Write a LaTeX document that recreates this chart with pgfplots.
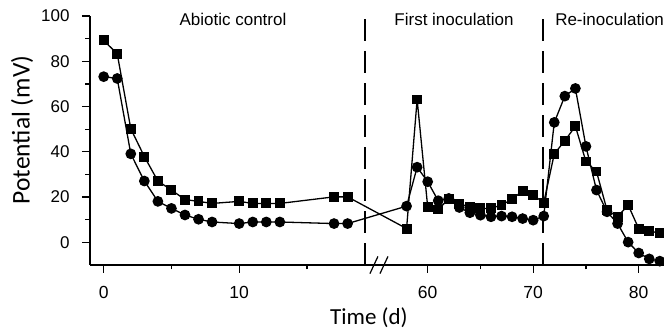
\documentclass[border=0pt]{standalone}
\usepackage{fontspec}
\setmainfont{Liberation Sans}
\newfontfamily\calfont{Carlito}
\usepackage{pgfplots}
\pgfplotsset{compat=1.18}
\usepackage{pgfplotstable}
\pgfplotstableread{
d s c
0 89.2 73.2
1 83.3 72.4
2 50.2 39.1
3 37.9 27.1
4 27.1 18.1
5 23.1 15.0
6 18.9 12.1
7 18.1 10.2
8 17.2 9.0
10 18.1 8.3
11 17.2 9.0
12 17.2 9.0
13 17.2 9.0
17 20.1 8.3
18 20.1 8.3
58 6.1 16.0
59 63.1 33.2
60 15.7 26.8
61 14.5 18.4
62 19.3 19.4
63 17.0 15.4
64 15.7 13.1
65 15.0 12.0
66 15.0 11.3
67 16.5 11.6
68 19.0 11.3
69 22.8 10.5
70 20.9 9.8
71 17.5 11.6
72 39.1 53.0
73 44.9 64.6
74 51.3 68.0
75 35.7 42.4
76 31.3 23.1
77 14.2 13.5
78 11.3 8.3
79 16.5 0.1
80 6.1 -4.7
81 5.0 -7.3
82 4.1 -8.3
}\data
\begin{document}
\begin{tikzpicture}
\path[use as bounding box] (-90pt,-66pt) rectangle (574pt,265pt);
\begin{axis}[
 at={(0,0)}, anchor=south west,
 scale only axis, width=574pt, height=249pt,
 xmin=-1.01, xmax=41.35, ymin=-10, ymax=100,
 axis x line*=bottom, axis y line*=left,
 axis line style={line width=1.4pt,-},
 tick align=outside,
 major tick length=8pt, minor tick length=4.5pt,
 every tick/.style={black, line width=1.3pt},
 xtick={0,10,23.91,31.696,39.482},
 xticklabels={0,10,60,70,80},
 minor xtick={5,15,27.803,35.589},
 ytick={0,20,40,60,80,100},
 minor ytick={10,30,50,70,90},
 /pgf/number format/assume math mode=true,
 xticklabel style={font=\fontsize{17.5}{20}\selectfont, yshift=-10pt},
 yticklabel style={font=\fontsize{17}{19}\selectfont, xshift=-9pt},
 xlabel={Time (d)}, ylabel={Potential (mV)},
 xlabel style={font=\calfont\fontsize{23}{26}\selectfont, at={(rel axis cs:0.486,-0.213)}, anchor=center},
 ylabel style={font=\calfont\fontsize{25.5}{28}\selectfont, at={(rel axis cs:-0.1185,0.542)}, anchor=center},
 clip=false,
]
\addplot[black, line width=1.3pt, mark=square*, mark size=4.3pt, mark options={solid, fill=black}]
  table[x expr={ifthenelse(\thisrow{d}<40,\thisrow{d},23.91+0.7786*(\thisrow{d}-60))}, y=s] {\data};
\addplot[black, line width=1.3pt, mark=*, mark size=4.7pt, mark options={solid, fill=black}]
  table[x expr={ifthenelse(\thisrow{d}<40,\thisrow{d},23.91+0.7786*(\thisrow{d}-60))}, y=c] {\data};
\draw[black, line width=1.3pt, dash pattern=on 22pt off 10pt] (axis cs:19.28,-10) -- (axis cs:19.28,101.8);
\draw[black, line width=1.3pt, dash pattern=on 22pt off 10pt] (axis cs:32.42,-10) -- (axis cs:32.42,101.8);
\draw[black, line width=1.2pt] (axis cs:19.65,-13.8) -- (axis cs:20.24,-6.2);
\draw[black, line width=1.2pt] (axis cs:20.39,-13.8) -- (axis cs:20.98,-6.2);
\node[anchor=base, font=\fontsize{17}{20}\selectfont, inner sep=0pt] at (axis cs:9.54,95.8) {Abiotic control};
\node[anchor=base, font=\fontsize{17}{20}\selectfont, inner sep=0pt] at (axis cs:25.85,95.8) {First inoculation};
\node[anchor=base west, font=\fontsize{17}{20}\selectfont, inner sep=0pt] at (axis cs:33.31,95.8) {Re-inoculation};
\end{axis}
\end{tikzpicture}
\end{document}
